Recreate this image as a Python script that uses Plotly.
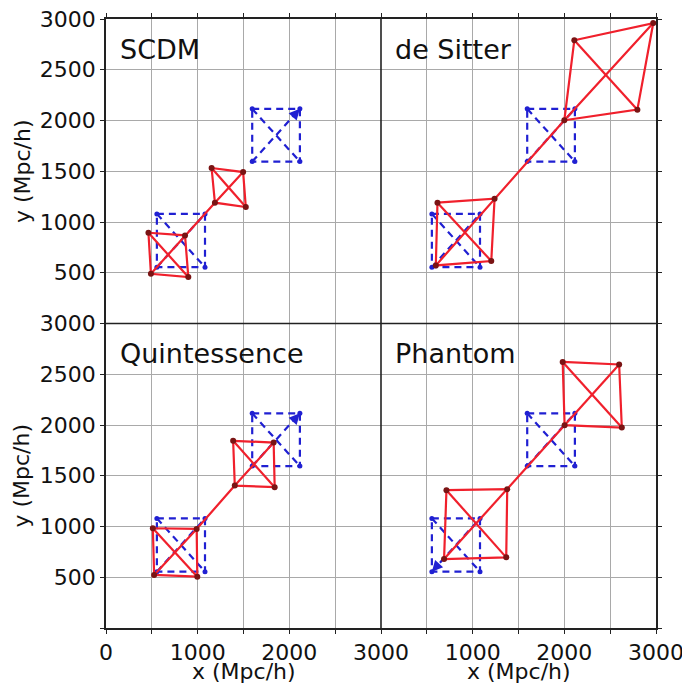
import plotly.graph_objects as go

# ---------------- data ----------------
panel_names = ["SCDM", "de Sitter", "Quintessence", "Phantom"]
tick_vals = [0, 500, 1000, 1500, 2000, 2500, 3000]
x_ticktext_left = ["0", "", "1000", "", "2000", "", "3000"]
x_ticktext_right = ["", "", "1000", "", "2000", "", "3000"]
y_ticktext = ["", "500", "1000", "1500", "2000", "2500", "3000"]

# original (comoving) squares, corners in order TL, TR, BR, BL
orig_lower_x = [555, 1080, 1080, 555]
orig_lower_y = [1080, 1080, 555, 555]
orig_upper_x = [1595, 2115, 2115, 1595]
orig_upper_y = [2115, 2115, 1595, 1595]

# distorted (observed) squares per model, corners TL, TR, BR, BL
scdm_lower_x = [463, 862, 898, 490]
scdm_lower_y = [894, 868, 457, 490]
scdm_upper_x = [1152, 1496, 1525, 1188]
scdm_upper_y = [1532, 1492, 1147, 1190]

desitter_lower_x = [616, 1239, 1203, 598]
desitter_lower_y = [1190, 1230, 615, 572]
desitter_upper_x = [2109, 2970, 2797, 2000]
desitter_upper_y = [2791, 2960, 2107, 2002]

quint_lower_x = [511, 989, 996, 525]
quint_lower_y = [983, 976, 506, 523]
quint_upper_x = [1387, 1829, 1840, 1405]
quint_upper_y = [1844, 1827, 1387, 1403]

phantom_lower_x = [714, 1377, 1366, 688]
phantom_lower_y = [1358, 1368, 696, 679]
phantom_upper_x = [1982, 2598, 2627, 2003]
phantom_upper_y = [2621, 2596, 1975, 1998]

models = [
    (scdm_lower_x, scdm_lower_y, scdm_upper_x, scdm_upper_y),
    (desitter_lower_x, desitter_lower_y, desitter_upper_x, desitter_upper_y),
    (quint_lower_x, quint_lower_y, quint_upper_x, quint_upper_y),
    (phantom_lower_x, phantom_lower_y, phantom_upper_x, phantom_upper_y),
]
# which blue square carries an arrow head: (square, tip corner, tail corner)
arrow_spec = [("upper", 1, 3), None, ("upper", 1, 3), ("lower", 3, 1)]

# ---------------- styling ----------------
RED = "#f0202c"
RED_DOT = "#7a1414"
BLUE = "#2020d2"
FONT = "DejaVu Sans"
BORDER = "#222222"

fig = go.Figure()
axes = [("x", "y"), ("x2", "y2"), ("x3", "y3"), ("x4", "y4")]


def quad_path(xs, ys):
    # edges TL-TR-BR-BL-TL, then diagonal TL-BR
    px = [xs[0], xs[1], xs[2], xs[3], xs[0], None, xs[0], xs[2], None]
    py = [ys[0], ys[1], ys[2], ys[3], ys[0], None, ys[0], ys[2], None]
    return px, py


for i, (xa, ya) in enumerate(axes):
    # blue original squares
    bx, by = [], []
    for sx, sy in [(orig_lower_x, orig_lower_y), (orig_upper_x, orig_upper_y)]:
        qx, qy = quad_path(sx, sy)
        bx += qx + [sx[3], sx[1], None]
        by += qy + [sy[3], sy[1], None]
    fig.add_trace(go.Scatter(x=bx, y=by, xaxis=xa, yaxis=ya, mode="lines",
                             line=dict(color=BLUE, width=2.2, dash="7px,5px"),
                             hoverinfo="skip", showlegend=False))
    fig.add_trace(go.Scatter(x=orig_lower_x + orig_upper_x,
                             y=orig_lower_y + orig_upper_y,
                             xaxis=xa, yaxis=ya, mode="markers",
                             marker=dict(color=BLUE, size=5),
                             hoverinfo="skip", showlegend=False))

    lx, ly, ux, uy = models[i]
    rx, ry = [], []
    for sx, sy in [(lx, ly), (ux, uy)]:
        qx, qy = quad_path(sx, sy)
        rx += qx
        ry += qy
    # long diagonal: lower BL -> lower TR -> upper BL -> upper TR
    rx += [lx[3], lx[1], ux[3], ux[1]]
    ry += [ly[3], ly[1], uy[3], uy[1]]
    fig.add_trace(go.Scatter(x=rx, y=ry, xaxis=xa, yaxis=ya, mode="lines",
                             line=dict(color=RED, width=2.2),
                             hoverinfo="skip", showlegend=False))
    fig.add_trace(go.Scatter(x=lx + ux, y=ly + uy, xaxis=xa, yaxis=ya,
                             mode="markers",
                             marker=dict(color=RED_DOT, size=6),
                             hoverinfo="skip", showlegend=False))

    # panel label
    fig.add_annotation(x=130, y=2700, xref=xa, yref=ya, text=panel_names[i],
                       showarrow=False, xanchor="left", yanchor="middle",
                       font=dict(family=FONT, size=27, color="#111111"))

    # arrow head on blue diagonal
    if arrow_spec[i] is not None:
        which, tip, tail = arrow_spec[i]
        sx, sy = (orig_upper_x, orig_upper_y) if which == "upper" else (orig_lower_x, orig_lower_y)
        tx, ty = sx[tip], sy[tip]
        fx, fy = sx[tail], sy[tail]
        ax_ = tx + (fx - tx) * 0.12
        ay_ = ty + (fy - ty) * 0.12
        fig.add_annotation(x=tx, y=ty, ax=ax_, ay=ay_, xref=xa, yref=ya,
                           axref=xa, ayref=ya, text="", showarrow=True,
                           arrowhead=2, arrowsize=1.2, arrowwidth=1.8,
                           arrowcolor=BLUE)

common = dict(range=[0, 3000], tickmode="array", tickvals=tick_vals,
              showgrid=True, gridcolor="#a9a9a9", gridwidth=1.3,
              showline=True, linecolor=BORDER, linewidth=1.6,
              mirror=False, ticks="outside", ticklen=4, tickcolor=BORDER,
              zeroline=False, automargin=False, ticklabeloverflow="allow",
              tickfont=dict(family=FONT, size=22, color="#111111"),
              fixedrange=True)

fig.update_layout(
    width=682, height=675,
    margin=dict(l=98, r=34, t=11, b=55),
    paper_bgcolor="white", plot_bgcolor="white",
    xaxis=dict(common, domain=[0, 0.5], anchor="y", side="top", showticklabels=False),
    yaxis=dict(common, domain=[0.5, 1], anchor="x", side="left", ticktext=y_ticktext),
    xaxis2=dict(common, domain=[0.5, 1], anchor="y2", side="top", showticklabels=False),
    yaxis2=dict(common, domain=[0.5, 1], anchor="x2", side="right", showticklabels=False),
    xaxis3=dict(common, domain=[0, 0.5], anchor="y3", side="bottom", ticktext=x_ticktext_left),
    yaxis3=dict(common, domain=[0, 0.5], anchor="x3", side="left", ticktext=y_ticktext),
    xaxis4=dict(common, domain=[0.5, 1], anchor="y4", side="bottom", ticktext=x_ticktext_right),
    yaxis4=dict(common, domain=[0, 0.5], anchor="x4", side="right", showticklabels=False),
)

# inner panel borders (shared edges)
fig.add_shape(type="line", xref="paper", yref="paper", x0=0.5, x1=0.5, y0=0, y1=1,
              line=dict(color=BORDER, width=1.6), layer="above")
fig.add_shape(type="line", xref="paper", yref="paper", x0=0, x1=1, y0=0.5, y1=0.5,
              line=dict(color=BORDER, width=1.6), layer="above")

title_font = dict(family=FONT, size=22, color="#111111")
for yc in [0.75, 0.25]:
    fig.add_annotation(x=-0.153, y=yc, xref="paper", yref="paper",
                       text="y (Mpc/h)", textangle=-90, showarrow=False,
                       xanchor="center", yanchor="middle", font=title_font)
for xc in [0.25, 0.75]:
    fig.add_annotation(x=xc, y=-0.072, xref="paper", yref="paper",
                       text="x (Mpc/h)", showarrow=False,
                       xanchor="center", yanchor="middle", font=title_font)

fig.write_html("out.html")
